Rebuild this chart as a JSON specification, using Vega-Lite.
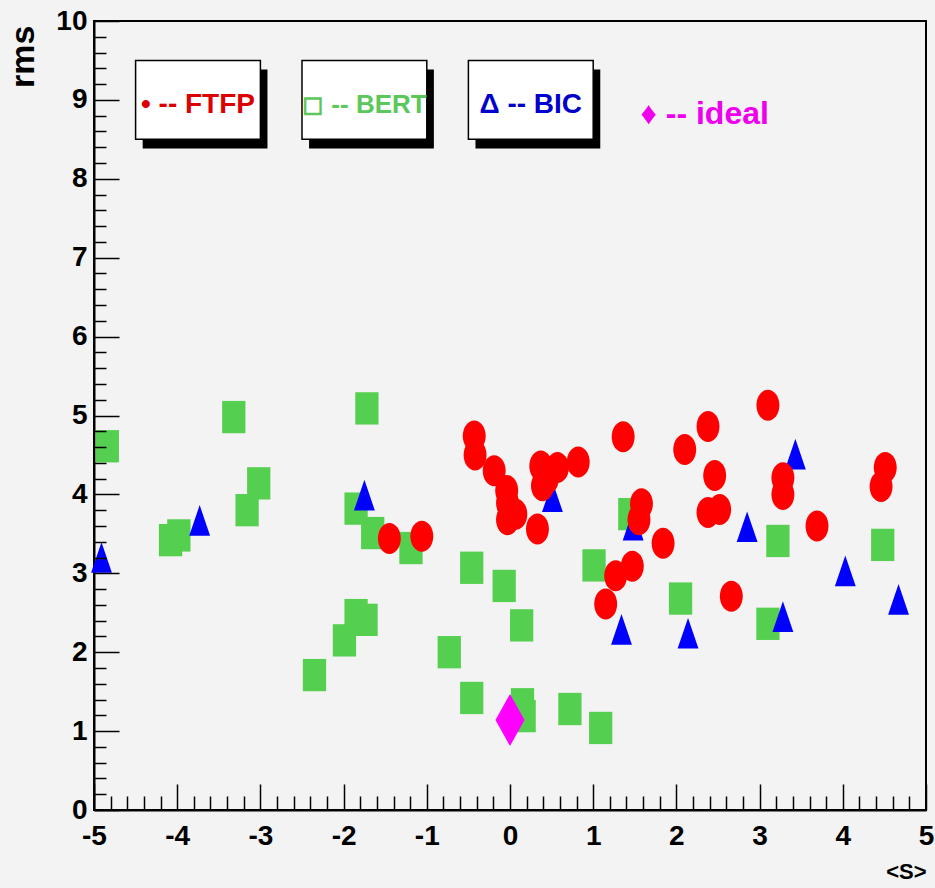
{
  "$schema": "https://vega.github.io/schema/vega-lite/v6.json",
  "width": 832,
  "height": 789,
  "autosize": {"type": "none"},
  "padding": {"left": 94, "top": 21, "right": 9, "bottom": 78},
  "background": "#f3f3f3",
  "config": {
    "view": {"stroke": "#000000", "strokeWidth": 2},
    "axis": {"grid": false, "title": null, "labelColor": "#000000", "titleColor": "#000000", "tickColor": "#000000", "domainColor": "#000000"}
  },
  "datasets": {
    "points": [
      {"model": "BERT", "S": -4.84, "rms": 4.61},
      {"model": "BERT", "S": -3.32, "rms": 4.98},
      {"model": "BERT", "S": -3.02, "rms": 4.14},
      {"model": "BERT", "S": -3.16, "rms": 3.80},
      {"model": "BERT", "S": -4.08, "rms": 3.42},
      {"model": "BERT", "S": -3.98, "rms": 3.48},
      {"model": "BERT", "S": -1.72, "rms": 5.09},
      {"model": "BERT", "S": -1.85, "rms": 3.82},
      {"model": "BERT", "S": -1.65, "rms": 3.51},
      {"model": "BERT", "S": -1.19, "rms": 3.32},
      {"model": "BERT", "S": -0.46, "rms": 3.07},
      {"model": "BERT", "S": -0.07, "rms": 2.84},
      {"model": "BERT", "S": -1.85, "rms": 2.47},
      {"model": "BERT", "S": -1.73, "rms": 2.41},
      {"model": "BERT", "S": -1.99, "rms": 2.15},
      {"model": "BERT", "S": -2.35, "rms": 1.71},
      {"model": "BERT", "S": -0.73, "rms": 2.00},
      {"model": "BERT", "S": -0.46, "rms": 1.42},
      {"model": "BERT", "S": 0.14, "rms": 2.34},
      {"model": "BERT", "S": 0.15, "rms": 1.34},
      {"model": "BERT", "S": 0.17, "rms": 1.19},
      {"model": "BERT", "S": 0.72, "rms": 1.28},
      {"model": "BERT", "S": 1.09, "rms": 1.04},
      {"model": "BERT", "S": 1.01, "rms": 3.10},
      {"model": "BERT", "S": 1.44, "rms": 3.75},
      {"model": "BERT", "S": 2.05, "rms": 2.68},
      {"model": "BERT", "S": 3.10, "rms": 2.36},
      {"model": "BERT", "S": 3.22, "rms": 3.41},
      {"model": "BERT", "S": 4.48, "rms": 3.36},
      {"model": "BIC", "S": -4.91, "rms": 3.20},
      {"model": "BIC", "S": -3.73, "rms": 3.67},
      {"model": "BIC", "S": -1.75, "rms": 3.99},
      {"model": "BIC", "S": 0.51, "rms": 3.97},
      {"model": "BIC", "S": 1.48, "rms": 3.61},
      {"model": "BIC", "S": 1.34, "rms": 2.29},
      {"model": "BIC", "S": 2.14, "rms": 2.24},
      {"model": "BIC", "S": 2.85, "rms": 3.59},
      {"model": "BIC", "S": 3.28, "rms": 2.45},
      {"model": "BIC", "S": 3.43, "rms": 4.51},
      {"model": "BIC", "S": 4.03, "rms": 3.03},
      {"model": "BIC", "S": 4.67, "rms": 2.67},
      {"model": "FTFP", "S": -1.45, "rms": 3.44},
      {"model": "FTFP", "S": -1.06, "rms": 3.47},
      {"model": "FTFP", "S": -0.43, "rms": 4.74},
      {"model": "FTFP", "S": -0.42, "rms": 4.50},
      {"model": "FTFP", "S": -0.19, "rms": 4.30},
      {"model": "FTFP", "S": -0.04, "rms": 4.05},
      {"model": "FTFP", "S": -0.03, "rms": 3.89},
      {"model": "FTFP", "S": 0.07, "rms": 3.75},
      {"model": "FTFP", "S": -0.03, "rms": 3.68},
      {"model": "FTFP", "S": 0.33, "rms": 3.56},
      {"model": "FTFP", "S": 0.37, "rms": 4.36},
      {"model": "FTFP", "S": 0.39, "rms": 4.11},
      {"model": "FTFP", "S": 0.57, "rms": 4.34},
      {"model": "FTFP", "S": 0.45, "rms": 4.20},
      {"model": "FTFP", "S": 0.82, "rms": 4.41},
      {"model": "FTFP", "S": 1.36, "rms": 4.73},
      {"model": "FTFP", "S": 1.58, "rms": 3.88},
      {"model": "FTFP", "S": 1.55, "rms": 3.68},
      {"model": "FTFP", "S": 1.47, "rms": 3.09},
      {"model": "FTFP", "S": 1.27, "rms": 2.97},
      {"model": "FTFP", "S": 1.15, "rms": 2.61},
      {"model": "FTFP", "S": 1.84, "rms": 3.38},
      {"model": "FTFP", "S": 2.10, "rms": 4.57},
      {"model": "FTFP", "S": 2.38, "rms": 4.86},
      {"model": "FTFP", "S": 2.46, "rms": 4.24},
      {"model": "FTFP", "S": 2.38, "rms": 3.77},
      {"model": "FTFP", "S": 2.52, "rms": 3.81},
      {"model": "FTFP", "S": 2.66, "rms": 2.71},
      {"model": "FTFP", "S": 3.10, "rms": 5.13},
      {"model": "FTFP", "S": 3.28, "rms": 4.21},
      {"model": "FTFP", "S": 3.28, "rms": 4.00},
      {"model": "FTFP", "S": 3.69, "rms": 3.60},
      {"model": "FTFP", "S": 4.51, "rms": 4.34},
      {"model": "FTFP", "S": 4.46, "rms": 4.10},
      {"model": "ideal", "S": 0.0, "rms": 1.14}
    ]
  },
  "layer": [
    {
      "data": {"values": [{}]},
      "mark": {"type": "rect", "fill": "#000000"},
      "encoding": {
        "x": {"datum": -4.415, "type": "quantitative", "axis": null},
        "x2": {"datum": -2.915},
        "y": {"datum": 8.385, "type": "quantitative", "axis": null},
        "y2": {"datum": 9.385}
      }
    },
    {
      "data": {"values": [{}]},
      "mark": {"type": "rect", "fill": "#ffffff", "stroke": "#000000", "strokeWidth": 1.5},
      "encoding": {
        "x": {"datum": -4.5, "type": "quantitative", "axis": null},
        "x2": {"datum": -3.0},
        "y": {"datum": 8.5, "type": "quantitative", "axis": null},
        "y2": {"datum": 9.5}
      }
    },
    {
      "data": {"values": [{}]},
      "mark": {"type": "rect", "fill": "#000000"},
      "encoding": {
        "x": {"datum": -2.415, "type": "quantitative", "axis": null},
        "x2": {"datum": -0.915},
        "y": {"datum": 8.385, "type": "quantitative", "axis": null},
        "y2": {"datum": 9.385}
      }
    },
    {
      "data": {"values": [{}]},
      "mark": {"type": "rect", "fill": "#ffffff", "stroke": "#000000", "strokeWidth": 1.5},
      "encoding": {
        "x": {"datum": -2.5, "type": "quantitative", "axis": null},
        "x2": {"datum": -1.0},
        "y": {"datum": 8.5, "type": "quantitative", "axis": null},
        "y2": {"datum": 9.5}
      }
    },
    {
      "data": {"values": [{}]},
      "mark": {"type": "rect", "fill": "#000000"},
      "encoding": {
        "x": {"datum": -0.415, "type": "quantitative", "axis": null},
        "x2": {"datum": 1.085},
        "y": {"datum": 8.385, "type": "quantitative", "axis": null},
        "y2": {"datum": 9.385}
      }
    },
    {
      "data": {"values": [{}]},
      "mark": {"type": "rect", "fill": "#ffffff", "stroke": "#000000", "strokeWidth": 1.5},
      "encoding": {
        "x": {"datum": -0.5, "type": "quantitative", "axis": null},
        "x2": {"datum": 1.0},
        "y": {"datum": 8.5, "type": "quantitative", "axis": null},
        "y2": {"datum": 9.5}
      }
    },
    {
      "data": {"values": [{}]},
      "mark": {"type": "text", "text": "• -- FTFP", "font": "Liberation Sans, Arial, sans-serif", "fontSize": 28, "fontWeight": "bold", "color": "#dd0000", "align": "center", "baseline": "alphabetic"},
      "encoding": {
        "x": {"datum": -3.75, "type": "quantitative", "axis": null},
        "y": {"datum": 8.84, "type": "quantitative", "axis": null}
      }
    },
    {
      "data": {"values": [{}]},
      "mark": {"type": "text", "text": "◻ -- BERT", "font": "Liberation Sans, Arial, sans-serif", "fontSize": 26, "fontWeight": "bold", "color": "#5cc85c", "align": "center", "baseline": "alphabetic"},
      "encoding": {
        "x": {"datum": -1.75, "type": "quantitative", "axis": null},
        "y": {"datum": 8.84, "type": "quantitative", "axis": null}
      }
    },
    {
      "data": {"values": [{}]},
      "mark": {"type": "text", "text": "Δ --  BIC", "font": "Liberation Sans, Arial, sans-serif", "fontSize": 28, "fontWeight": "bold", "color": "#0000cc", "align": "center", "baseline": "alphabetic"},
      "encoding": {
        "x": {"datum": 0.25, "type": "quantitative", "axis": null},
        "y": {"datum": 8.84, "type": "quantitative", "axis": null}
      }
    },
    {
      "data": {"values": [{}]},
      "mark": {"type": "text", "text": "♦ -- ideal", "font": "Liberation Sans, Arial, sans-serif", "fontSize": 32, "fontWeight": "bold", "color": "#ee00ee", "align": "center", "baseline": "alphabetic"},
      "encoding": {
        "x": {"datum": 2.34, "type": "quantitative", "axis": null},
        "y": {"datum": 8.70, "type": "quantitative", "axis": null}
      }
    },
    {
      "data": {"name": "points"},
      "transform": [{"filter": "datum.model == 'BERT'"}],
      "mark": {"type": "point", "filled": true, "opacity": 1, "shape": "M-0.72,-1H0.72V1H-0.72Z", "size": 1044, "color": "#55cf4f"},
      "encoding": {
        "x": {"field": "S", "type": "quantitative", "scale": {"domain": [-5, 5], "nice": false, "zero": false},
          "axis": {"orient": "bottom", "values": [-5, -4, -3, -2, -1, 0, 1, 2, 3, 4, 5], "domain": true, "domainWidth": 2, "ticks": false, "labels": true, "labelPadding": 12, "labelFont": "Liberation Sans, Arial, sans-serif", "labelFontSize": 28, "labelFontWeight": "bold", "labelFlush": false, "labelOverlap": false, "labelBaseline": "top", "labelExpr": "datum.value < 0 ? '-' + abs(datum.value) : '' + datum.value", "title": "<S>", "titleAnchor": "end", "titleAlign": "right", "titleBaseline": "top", "titleY": 51, "titleFont": "Liberation Sans, Arial, sans-serif", "titleFontSize": 22, "titleFontWeight": "bold"}},
        "y": {"field": "rms", "type": "quantitative", "scale": {"domain": [0, 10], "nice": false, "zero": false},
          "axis": {"orient": "left", "values": [0, 1, 2, 3, 4, 5, 6, 7, 8, 9, 10], "domain": true, "domainWidth": 2, "ticks": false, "labels": true, "labelPadding": 7, "labelFont": "Liberation Sans, Arial, sans-serif", "labelFontSize": 28, "labelFontWeight": "bold", "labelFlush": false, "labelOverlap": false, "labelBound": false, "title": "rms", "titleAngle": 270, "titleAlign": "right", "titleBaseline": "middle", "titleX": -71, "titleY": 4, "titleFont": "Liberation Sans, Arial, sans-serif", "titleFontSize": 34, "titleFontWeight": "bold"}}
      }
    },
    {
      "data": {"name": "points"},
      "transform": [{"filter": "datum.model == 'BIC'"}],
      "mark": {"type": "point", "filled": true, "opacity": 1, "shape": "M0,-1L0.68,1L-0.68,1Z", "size": 942, "color": "#0000ff"},
      "encoding": {
        "x": {"field": "S", "type": "quantitative",
          "axis": {"orient": "bottom", "values": [-5, -4, -3, -2, -1, 0, 1, 2, 3, 4, 5], "domain": false, "ticks": true, "tickSize": -26, "tickWidth": 1.5, "labels": false, "title": null, "zindex": 1}},
        "y": {"field": "rms", "type": "quantitative",
          "axis": {"orient": "left", "values": [0, 1, 2, 3, 4, 5, 6, 7, 8, 9, 10], "domain": false, "ticks": true, "tickSize": -25, "tickWidth": 1.5, "labels": false, "title": null, "zindex": 1}}
      }
    },
    {
      "data": {"name": "points"},
      "transform": [{"filter": "datum.model == 'FTFP'"}],
      "mark": {"type": "point", "filled": true, "opacity": 1, "shape": "M-0.74,0A0.74,1,0,1,1,0.74,0A0.74,1,0,1,1,-0.74,0Z", "size": 961, "color": "#ff0000"},
      "encoding": {
        "x": {"field": "S", "type": "quantitative",
          "axis": {"orient": "bottom", "values": [-4.8, -4.6, -4.4, -4.2, -3.8, -3.6, -3.4, -3.2, -2.8, -2.6, -2.4, -2.2, -1.8, -1.6, -1.4, -1.2, -0.8, -0.6, -0.4, -0.2, 0.2, 0.4, 0.6, 0.8, 1.2, 1.4, 1.6, 1.8, 2.2, 2.4, 2.6, 2.8, 3.2, 3.4, 3.6, 3.8, 4.2, 4.4, 4.6, 4.8], "domain": false, "ticks": true, "tickSize": -14, "tickWidth": 1.5, "labels": false, "title": null, "zindex": 1}},
        "y": {"field": "rms", "type": "quantitative",
          "axis": {"orient": "left", "values": [0.2, 0.4, 0.6, 0.8, 1.2, 1.4, 1.6, 1.8, 2.2, 2.4, 2.6, 2.8, 3.2, 3.4, 3.6, 3.8, 4.2, 4.4, 4.6, 4.8, 5.2, 5.4, 5.6, 5.8, 6.2, 6.4, 6.6, 6.8, 7.2, 7.4, 7.6, 7.8, 8.2, 8.4, 8.6, 8.8, 9.2, 9.4, 9.6, 9.8], "domain": false, "ticks": true, "tickSize": -12, "tickWidth": 1.5, "labels": false, "title": null, "zindex": 1}}
      }
    },
    {
      "data": {"name": "points"},
      "transform": [{"filter": "datum.model == 'ideal'"}],
      "mark": {"type": "point", "filled": true, "opacity": 1, "shape": "M0,-1L0.56,0L0,1L-0.56,0Z", "size": 2704, "color": "#ff00ff"},
      "encoding": {
        "x": {"field": "S", "type": "quantitative", "axis": null},
        "y": {"field": "rms", "type": "quantitative", "axis": null}
      }
    }
  ],
  "resolve": {"axis": {"x": "independent", "y": "independent"}}
}
